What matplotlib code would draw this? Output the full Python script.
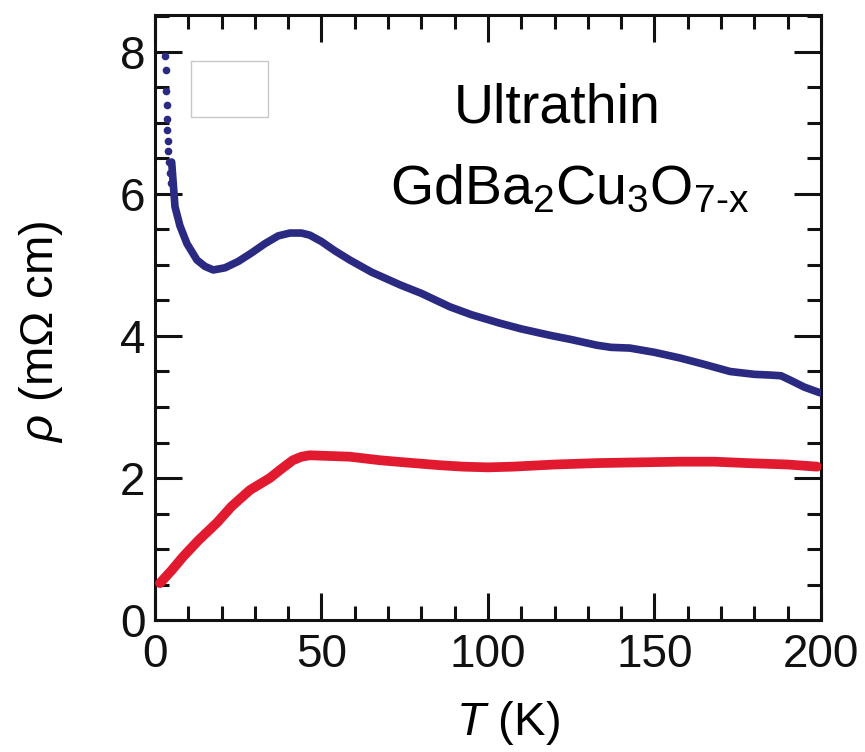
import matplotlib
matplotlib.use("Agg")
import matplotlib.pyplot as plt
from matplotlib.patches import Rectangle
from matplotlib.ticker import MultipleLocator

plt.rcParams.update({
    "font.family": "Liberation Sans",
    "mathtext.fontset": "custom",
    "mathtext.rm": "Liberation Sans",
    "mathtext.it": "Liberation Sans:italic",
    "mathtext.bf": "Liberation Sans:bold",
})

BLUE, RED = "#2b2a82", "#e21a30"

# low-temperature upturn, sparse points
blue_dot_T = [3.0, 3.2, 3.4, 3.5, 3.6, 3.7, 3.8, 4.0, 4.2, 4.5, 4.8]
blue_dot_rho = [7.95, 7.75, 7.45, 7.25, 7.05, 6.9, 6.75, 6.6, 6.45, 6.3, 6.15]

# ultrathin film, dense part
blue_T = [5.0, 6.0, 7.5, 9.6, 12.6, 15, 17.5, 21, 25, 29, 33, 37, 40.5, 44, 46.5,
          50, 54, 58.5, 65, 73.6, 80, 88.6, 95, 103.6, 110, 118.6, 125, 132.7, 137,
          142.6, 150, 157.7, 165, 172.7, 180, 184.7, 188, 190.7, 195, 199.7]
blue_rho = [6.45, 5.82, 5.55, 5.3, 5.07, 4.98, 4.93, 4.96, 5.05, 5.17, 5.3, 5.41,
            5.45, 5.45, 5.42, 5.33, 5.2, 5.07, 4.9, 4.72, 4.6, 4.41, 4.3, 4.18, 4.1,
            4.01, 3.95, 3.87, 3.84, 3.83, 3.77, 3.69, 3.6, 3.5, 3.46, 3.45, 3.44,
            3.38, 3.28, 3.2]

red_T = [1.5, 5, 8.4, 13, 18.6, 23, 28.5, 34.5, 38, 41.4, 44, 46.5, 52.5, 58.5,
         67.6, 75, 85.6, 92.5, 100, 107.5, 120, 132.7, 145, 157.7, 168, 177.8, 190,
         198.8]
red_rho = [0.52, 0.7, 0.89, 1.12, 1.37, 1.6, 1.83, 2.0, 2.13, 2.25, 2.3, 2.32, 2.31,
           2.30, 2.25, 2.22, 2.18, 2.16, 2.15, 2.16, 2.19, 2.21, 2.22, 2.23, 2.23,
           2.21, 2.19, 2.16]

fig = plt.figure(figsize=(8.65, 7.52), dpi=100)
ax = fig.add_axes([0.1792, 0.1755, 0.7699, 0.8045])

ax.plot(red_T, red_rho, color=RED, lw=7, solid_capstyle="round", zorder=3)
ax.plot(blue_T, blue_rho, color=BLUE, lw=5.5, solid_capstyle="round", zorder=3)
ax.plot(blue_dot_T, blue_dot_rho, "o", color=BLUE, ms=4.5, zorder=3)

# empty legend frame
ax.add_patch(Rectangle((10.8, 7.08), 23.2, 0.79, facecolor="white",
                       edgecolor="#c8c8c8", lw=1, zorder=2))

ax.text(120.7, 7.01, "Ultrathin", fontsize=40, ha="center", va="baseline")
ax.text(124.6, 5.85, r"$\mathregular{GdBa_2Cu_3O_{7\text{-}x}}$", fontsize=40,
        ha="center", va="baseline")

ax.set_xlim(0, 200)
ax.set_ylim(0, 8.52)
ax.xaxis.set_major_locator(MultipleLocator(50))
ax.xaxis.set_minor_locator(MultipleLocator(10))
ax.yaxis.set_major_locator(MultipleLocator(2))
ax.yaxis.set_minor_locator(MultipleLocator(0.5))
ax.tick_params(which="both", direction="in", top=True, right=True, width=2.2,
               colors="#111111")
ax.tick_params(which="major", length=19.5, labelsize=33)
ax.tick_params(which="minor", length=10)
ax.tick_params(axis="x", which="major", pad=9)
ax.tick_params(axis="y", which="major", pad=7)
for s in ax.spines.values():
    s.set_linewidth(2.2)
    s.set_color("#111111")

ax.set_xlabel(r"$\mathit{T}$ (K)", fontsize=34)
ax.set_ylabel(r"$\mathit{\rho}$ (m$\Omega$ cm)", fontsize=34)
ax.xaxis.set_label_coords(0.53, -0.13)
ax.yaxis.set_label_coords(-0.135, 0.476)

fig.savefig("out.png", dpi=100, facecolor="white")
